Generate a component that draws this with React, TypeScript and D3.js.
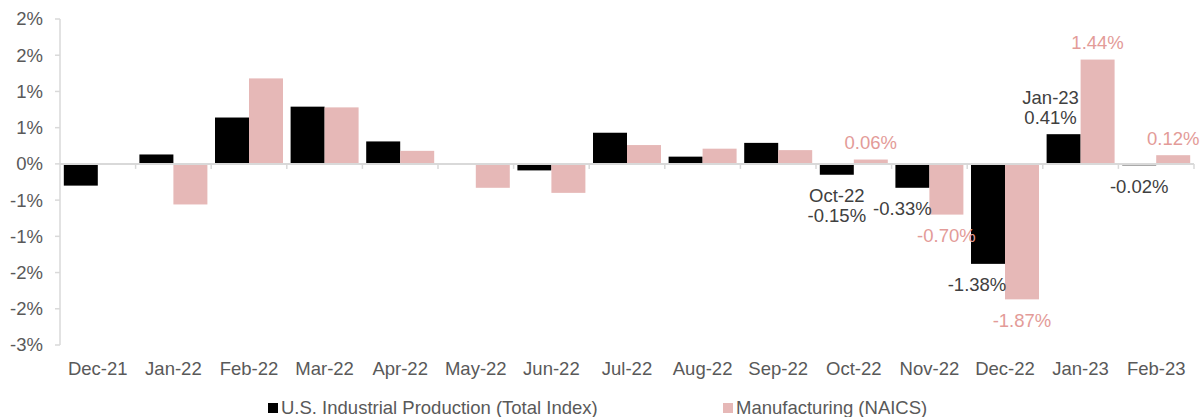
import React from 'react';
import * as d3 from 'd3';

// monthly % change
const months = [
    'Dec-21', 'Jan-22', 'Feb-22', 'Mar-22', 'Apr-22', 'May-22', 'Jun-22', 'Jul-22',
    'Aug-22', 'Sep-22', 'Oct-22', 'Nov-22', 'Dec-22', 'Jan-23', 'Feb-23'
];
const industrialProduction = [
    -0.30, 0.13, 0.64, 0.79, 0.31, -0.01, -0.09, 0.43,
    0.10, 0.29, -0.15, -0.33, -1.38, 0.41, -0.02
];
const manufacturing = [
    -0.01, -0.56, 1.18, 0.78, 0.18, -0.33, -0.40, 0.26,
    0.21, 0.19, 0.06, -0.70, -1.87, 1.44, 0.12
];
const yTicks = [2.0, 1.5, 1.0, 0.5, 0, -0.5, -1.0, -1.5, -2.0, -2.5];
const seriesNames = ['U.S. Industrial Production (Total Index)', 'Manufacturing (NAICS)'];
const seriesKeys = ['ip', 'mfg'];

// data labels: which bar, text lines, horizontal nudge
const annotations = [
    { month: 'Oct-22', key: 'ip', lines: ['Oct-22', '-0.15%'], nudge: 0 },
    { month: 'Oct-22', key: 'mfg', lines: ['0.06%'], nudge: 0 },
    { month: 'Nov-22', key: 'ip', lines: ['-0.33%'], nudge: -10 },
    { month: 'Nov-22', key: 'mfg', lines: ['-0.70%'], nudge: 0 },
    { month: 'Dec-22', key: 'ip', lines: ['-1.38%'], nudge: -11 },
    { month: 'Dec-22', key: 'mfg', lines: ['-1.87%'], nudge: 0 },
    { month: 'Jan-23', key: 'ip', lines: ['Jan-23', '0.41%'], nudge: -13 },
    { month: 'Jan-23', key: 'mfg', lines: ['1.44%'], nudge: 0 },
    { month: 'Feb-23', key: 'ip', lines: ['-0.02%'], nudge: 0 },
    { month: 'Feb-23', key: 'mfg', lines: ['0.12%'], nudge: 0 }
];

const colors: Record<string, string> = { ip: '#000000', mfg: '#e6b8b7' };
const labelColors: Record<string, string> = { ip: '#404040', mfg: '#e39b98' };
const axisColor = '#d9d9d9';
const tickTextColor = '#595959';
const font = '"Liberation Sans", Arial, sans-serif';

const width = 1200;
const height = 417;
const plotLeft = 60;
const plotRight = 1194;
const plotTop = 19;
const plotBottom = 345;
const fontSize = 18.5;
const lineGap = 20;

const App = () => {
    const x = d3.scaleBand<string>().domain(months).range([plotLeft, plotRight]);
    const inner = d3.scaleBand<string>()
        .domain(seriesKeys)
        .range([0, x.bandwidth()])
        .paddingOuter(0.112);
    const y = d3.scaleLinear().domain([-2.5, 2.0]).range([plotBottom, plotTop]);
    const y0 = y(0);

    const valueOf = (key: string, i: number) =>
        key === 'ip' ? industrialProduction[i] : manufacturing[i];

    // Excel-style: round half away from zero, plain hyphen for the minus sign
    const tickLabel = (v: number) => {
        const r = Math.sign(v) * Math.round(Math.abs(v));
        return `${r === 0 ? 0 : r}%`;
    };

    return (
        <svg
            width={width}
            height={height}
            style={{ position: 'absolute', left: 0, top: 0, fontFamily: font }}
        >
            {/* bars */}
            {months.map((m, i) => (
                <g key={m}>
                    {seriesKeys.map((k) => {
                        const v = valueOf(k, i);
                        const yv = y(v);
                        return (
                            <rect
                                key={k}
                                x={(x(m) ?? 0) + (inner(k) ?? 0)}
                                width={inner.bandwidth()}
                                y={Math.min(yv, y0)}
                                height={Math.max(Math.abs(yv - y0), 0.8)}
                                fill={colors[k]}
                            />
                        );
                    })}
                </g>
            ))}

            {/* y axis */}
            <line x1={plotLeft} x2={plotLeft} y1={plotTop} y2={plotBottom} stroke={axisColor} strokeWidth={1.5} />
            {yTicks.map((t) => (
                <g key={t}>
                    <line x1={plotLeft - 5} x2={plotLeft} y1={y(t)} y2={y(t)} stroke={axisColor} strokeWidth={1.5} />
                    <text
                        x={43}
                        y={y(t)}
                        dy="0.35em"
                        textAnchor="end"
                        fontSize={fontSize}
                        fill={tickTextColor}
                    >
                        {tickLabel(t)}
                    </text>
                </g>
            ))}

            {/* x axis at zero */}
            <line x1={plotLeft} x2={plotRight} y1={y0} y2={y0} stroke={axisColor} strokeWidth={2} />
            {months.map((m) => (
                <line
                    key={`t-${m}`}
                    x1={(x(m) ?? 0) + x.bandwidth()}
                    x2={(x(m) ?? 0) + x.bandwidth()}
                    y1={y0}
                    y2={y0 + 5}
                    stroke={axisColor}
                    strokeWidth={1.5}
                />
            ))}
            {months.map((m) => (
                <text
                    key={`l-${m}`}
                    x={(x(m) ?? 0) + x.bandwidth() / 2}
                    y={369}
                    dy="0.35em"
                    textAnchor="middle"
                    fontSize={fontSize}
                    fill={tickTextColor}
                >
                    {m}
                </text>
            ))}

            {/* data labels */}
            {annotations.map((a) => {
                const i = months.indexOf(a.month);
                const v = valueOf(a.key, i);
                const cx = (x(a.month) ?? 0) + (inner(a.key) ?? 0) + inner.bandwidth() / 2 + a.nudge;
                const end = y(v);
                const n = a.lines.length;
                return (
                    <text
                        key={`${a.month}-${a.key}`}
                        textAnchor="middle"
                        fontSize={fontSize}
                        fill={labelColors[a.key]}
                    >
                        {a.lines.map((line, j) => {
                            const cy = v >= 0
                                ? end - 17 - (n - 1 - j) * lineGap
                                : end + 21 + j * lineGap;
                            return (
                                <tspan key={j} x={cx} y={cy} dy="0.35em">{line}</tspan>
                            );
                        })}
                    </text>
                );
            })}

            {/* legend */}
            {seriesKeys.map((k, i) => {
                const lx = i === 0 ? 268 : 723;
                return (
                    <g key={k} transform={`translate(${lx},408)`}>
                        <rect x={0} y={-5} width={10} height={10} fill={colors[k]} />
                        <text x={13} dy="0.35em" fontSize={fontSize} fill={tickTextColor}>
                            {seriesNames[i]}
                        </text>
                    </g>
                );
            })}
        </svg>
    );
};

export default App;
